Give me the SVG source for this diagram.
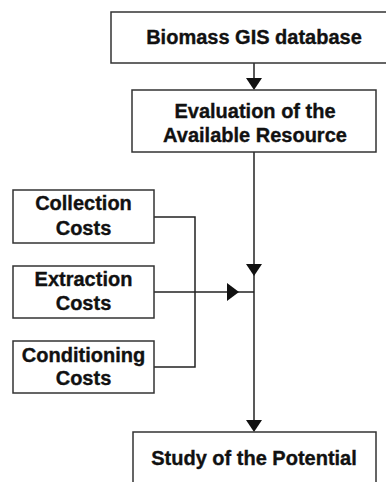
<svg xmlns="http://www.w3.org/2000/svg" width="386" height="482" viewBox="0 0 386 482">
<style>
.box{fill:#fff;stroke:#333;stroke-width:1.5}
.t{font-family:"Liberation Sans",Arial,sans-serif;font-weight:bold;font-size:20px;fill:#111;stroke:#111;stroke-width:0.35;text-anchor:middle}
.ln{fill:none;stroke:#222;stroke-width:1.5}
.ah{fill:#111}
</style>
<rect width="386" height="482" fill="#fff"/>
<g id="connectors">
<line class="ln" x1="254" y1="63" x2="254" y2="80"/>
<polygon class="ah" points="246,78 262,78 254,90"/>
<line class="ln" x1="254" y1="152" x2="254" y2="422"/>
<polygon class="ah" points="246,264 262,264 254,276"/>
<polyline class="ln" points="154,217 195,217 195,367 154,367"/>
<line class="ln" x1="154" y1="292" x2="254" y2="292"/>
<polygon class="ah" points="227,283 227,301 239,292"/>
<polygon class="ah" points="246,420 262,420 254,432"/>
</g>
<g id="biomass">
<rect class="box" x="111" y="12" width="290" height="51"/>
<text class="t" x="254" y="44">Biomass GIS database</text>
</g>
<g id="evaluation">
<rect class="box" x="132" y="90" width="244" height="62"/>
<text class="t" x="255" y="118">Evaluation of the</text>
<text class="t" x="255" y="142">Available Resource</text>
</g>
<g id="collection">
<rect class="box" x="13" y="190" width="141" height="53"/>
<text class="t" x="83.5" y="210">Collection</text>
<text class="t" x="83.5" y="235">Costs</text>
</g>
<g id="extraction">
<rect class="box" x="13" y="266" width="141" height="52"/>
<text class="t" x="83.5" y="286">Extraction</text>
<text class="t" x="83.5" y="310">Costs</text>
</g>
<g id="conditioning">
<rect class="box" x="13" y="341" width="141" height="52"/>
<text class="t" x="83.5" y="362">Conditioning</text>
<text class="t" x="83.5" y="385">Costs</text>
</g>
<g id="study">
<rect class="box" x="133" y="432" width="243" height="60"/>
<text class="t" x="254" y="465">Study of the Potential</text>
</g>
</svg>
